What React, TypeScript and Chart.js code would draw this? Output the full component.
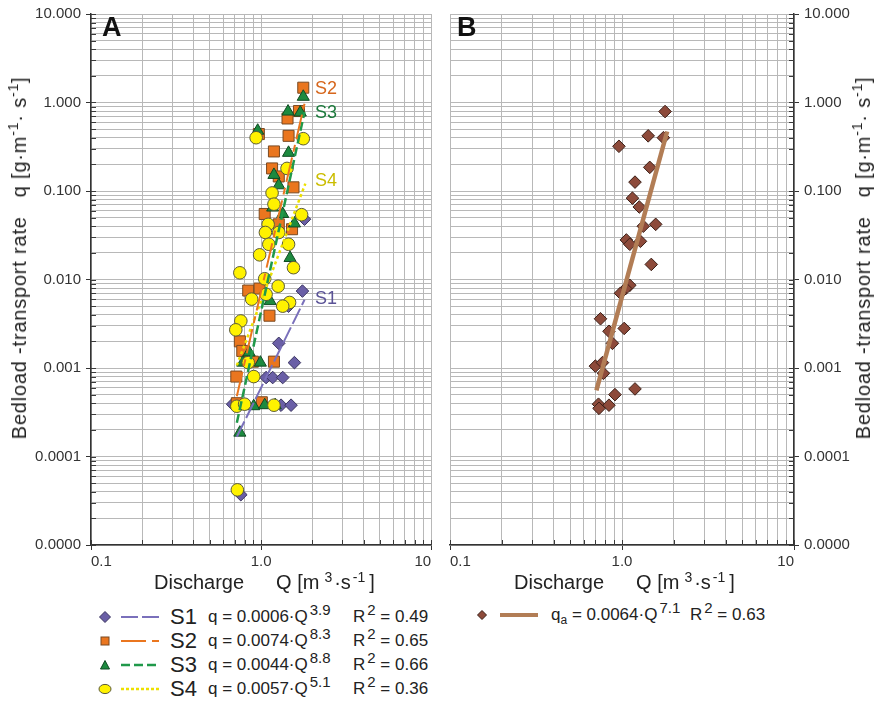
import React, { useEffect, useRef } from "react";
import { Chart, registerables } from "chart.js";
Chart.register(...registerables);

// ---------- axis ticks ----------
const X_MAJOR = [0.1, 1, 10];
const X_TICK_LABELS = ["0.1", "1.0", "10"];
const Y_MAJOR = [0.00001, 0.0001, 0.001, 0.01, 0.1, 1, 10];
const Y_TICK_LABELS = ["0.0000", "0.0001", "0.001", "0.010", "0.100", "1.000", "10.000"];
const MINOR_MULTIPLIERS = [1, 2, 3, 4, 5, 6, 7, 8, 9];

// ---------- panel A data: [Q (m3/s), q (g/m/s)] ----------
const S1_POINTS = [
  [1.8, 0.048], [1.75, 0.0074], [1.45, 0.005], [1.27, 0.0019], [1.57, 0.00115],
  [1.07, 0.00078], [1.17, 0.00078], [1.34, 0.00078], [1.31, 0.00038], [1.5, 0.00038],
  [0.68, 0.00039], [0.76, 0.000037],
];
const S2_POINTS = [
  [1.77, 1.47], [1.67, 0.8], [1.43, 0.66], [0.97, 0.44], [1.45, 0.42], [1.19, 0.28],
  [1.16, 0.18], [1.27, 0.146], [1.55, 0.11], [1.05, 0.055], [1.27, 0.042], [1.52, 0.037],
  [0.84, 0.0075], [0.98, 0.0079], [1.12, 0.0039], [0.75, 0.002], [0.775, 0.00156],
  [0.895, 0.00118], [1.19, 0.00118], [0.715, 0.0008], [1.01, 0.00041], [0.72, 0.0004],
];
const S3_POINTS = [
  [1.77, 1.16], [1.44, 0.79], [1.7, 0.77], [0.955, 0.48], [1.45, 0.27], [1.19, 0.152],
  [1.27, 0.116], [1.17, 0.065], [1.34, 0.055], [1.57, 0.043], [1.48, 0.0175], [1.13, 0.0057],
  [0.85, 0.0015], [0.78, 0.00115], [0.99, 0.00115], [0.905, 0.00037], [1.05, 0.00038],
  [1.21, 0.00038], [0.75, 0.000186],
];
const S4_POINTS = [
  [0.935, 0.4], [1.77, 0.39], [1.42, 0.18], [1.16, 0.095], [1.19, 0.071], [1.73, 0.054],
  [1.1, 0.042], [1.06, 0.034], [1.27, 0.034], [1.45, 0.025], [1.11, 0.025], [0.98, 0.019],
  [1.55, 0.0136], [0.75, 0.0119], [1.05, 0.0102], [1.26, 0.0084], [1.07, 0.0068], [0.88, 0.006],
  [1.47, 0.0055], [1.34, 0.005], [0.76, 0.0034], [0.71, 0.0027], [0.84, 0.00115], [0.905, 0.0008],
  [0.72, 0.00037], [0.8, 0.00039], [1.19, 0.00038], [0.725, 0.000042],
];
// fitted power-law lines (end points)
const S1_FIT = [[0.72, 0.000167], [1.8, 0.0059]];
const S2_FIT = [[0.72, 0.00048], [1.8, 0.97]];
const S3_FIT = [[0.72, 0.00024], [1.8, 0.78]];
const S4_FIT = [[0.72, 0.00107], [1.82, 0.121]];

// ---------- panel B data ----------
const QA_POINTS = [
  [1.78, 0.79], [1.42, 0.42], [1.74, 0.4], [0.96, 0.32], [1.45, 0.185], [1.19, 0.126],
  [1.15, 0.083], [1.26, 0.066], [1.33, 0.04], [1.57, 0.042], [1.06, 0.028], [1.11, 0.025],
  [1.28, 0.027], [1.48, 0.0148], [1.11, 0.0086], [1.05, 0.0079], [0.98, 0.007], [0.75, 0.0036],
  [0.84, 0.0026], [1.03, 0.0028], [0.88, 0.0019], [0.7, 0.00105], [0.77, 0.00115], [0.78, 0.00087],
  [1.19, 0.00058], [0.91, 0.0005], [0.73, 0.00039], [0.84, 0.00038], [0.735, 0.00035],
];
const QA_FIT = [[0.71, 0.00056], [1.83, 0.47]];

// ---------- legend texts ----------
const LEGEND_A = [
  { name: "S1", coef: "0.0006", exp: "3.9", r2: "0.49" },
  { name: "S2", coef: "0.0074", exp: "8.3", r2: "0.65" },
  { name: "S3", coef: "0.0044", exp: "8.8", r2: "0.66" },
  { name: "S4", coef: "0.0057", exp: "5.1", r2: "0.36" },
];
const LEGEND_B = { coef: "0.0064", exp: "7.1", r2: "0.63" };

const FONT = '"Liberation Sans", Arial, Helvetica, sans-serif';

const C = {
  s1: "#6a5fa6", s1Line: "#7a70bb", s1Text: "#5a5296",
  s2: "#ea761f", s2Line: "#ea761f", s2Text: "#d6661c",
  s3: "#1c8a3f", s3Line: "#20994a", s3Text: "#1c7a3c",
  s4: "#fff200", s4Line: "#ece000", s4Text: "#cbbd00",
  qa: "#8d4a3a", qaLine: "#b27d55",
};

function buildTicks(majors: number[]) {
  const out: number[] = [];
  for (let i = 0; i < majors.length - 1; i++) {
    for (const m of MINOR_MULTIPLIERS) out.push(Number((majors[i] * m).toPrecision(6)));
  }
  out.push(majors[majors.length - 1]);
  return out;
}
const X_TICKS = buildTicks(X_MAJOR);
const Y_TICKS = buildTicks(Y_MAJOR);
const isMajor = (v: number, majors: number[]) => majors.some((m) => Math.abs(v - m) / m < 1e-6);
const labelFor = (v: number, majors: number[], labels: string[]) => {
  const i = majors.findIndex((m) => Math.abs(v - m) / m < 1e-6);
  return i >= 0 ? labels[i] : "";
};
const toXY = (pts: number[][]) => pts.map(([x, y]) => ({ x, y }));

const innerTicksPlugin = {
  id: "innerTicks",
  beforeDatasetsDraw(chart: any) {
    const { ctx, chartArea: a, scales } = chart;
    const xs = scales.x;
    const ys = scales.y;
    const right = ys.position === "right";
    ctx.save();
    ctx.strokeStyle = "#3a3a3a";
    ctx.lineWidth = 1;
    ctx.beginPath();
    xs.ticks.forEach((t: any) => {
      const p = Math.round(xs.getPixelForValue(t.value)) + 0.5;
      ctx.moveTo(p, a.bottom);
      ctx.lineTo(p, a.bottom - 5);
    });
    ys.ticks.forEach((t: any) => {
      const p = Math.round(ys.getPixelForValue(t.value)) + 0.5;
      const x0 = right ? a.right : a.left;
      ctx.moveTo(x0, p);
      ctx.lineTo(right ? x0 - 5 : x0 + 5, p);
    });
    ctx.stroke();
    ctx.restore();
  },
};

function makeConfig(side: "left" | "right", datasets: any[]) {
  const right = side === "right";
  return {
    type: "scatter",
    data: { datasets },
    options: {
      responsive: false,
      animation: false,
      devicePixelRatio: 1,
      layout: {
        padding: right
          ? { left: 10, right: 0, top: 12, bottom: 0 }
          : { left: 0, right: 6, top: 12, bottom: 0 },
      },
      plugins: { legend: { display: false }, tooltip: { enabled: false } },
      scales: {
        x: {
          type: "logarithmic",
          min: 0.1,
          max: 10,
          afterBuildTicks: (s: any) => {
            s.ticks = X_TICKS.map((v) => ({ value: v, major: isMajor(v, X_MAJOR) }));
          },
          afterFit: (s: any) => {
            s.height = 30;
          },
          ticks: {
            autoSkip: false,
            maxRotation: 0,
            minRotation: 0,
            align: "inner",
            padding: 3,
            color: "#333",
            font: { family: FONT, size: 15 },
            callback: (v: number) => labelFor(v, X_MAJOR, X_TICK_LABELS),
          },
          grid: {
            color: "#b8b8b8",
            lineWidth: 1,
            tickLength: 5,
            tickColor: (c: any) => (c.tick && isMajor(c.tick.value, X_MAJOR) ? "#333" : "rgba(0,0,0,0)"),
          },
          border: { display: true, color: "#333", width: 1.5 },
        },
        y: {
          type: "logarithmic",
          position: right ? "right" : "left",
          min: 0.00001,
          max: 10,
          afterBuildTicks: (s: any) => {
            s.ticks = Y_TICKS.map((v) => ({ value: v, major: isMajor(v, Y_MAJOR) }));
          },
          afterFit: (s: any) => {
            s.width = right ? 86 : 91;
          },
          ticks: {
            autoSkip: false,
            padding: 5,
            color: "#333",
            font: { family: FONT, size: 15 },
            callback: (v: number) => labelFor(v, Y_MAJOR, Y_TICK_LABELS),
          },
          grid: {
            color: "#b8b8b8",
            lineWidth: 1,
            tickLength: 5,
            tickColor: (c: any) => (c.tick && isMajor(c.tick.value, Y_MAJOR) ? "#333" : "rgba(0,0,0,0)"),
          },
          border: { display: true, color: "#333", width: 1.5 },
        },
      },
    },
    plugins: [innerTicksPlugin],
  };
}

const fitLine = (pts: number[][], color: string, dash: number[], width: number) => ({
  data: toXY(pts),
  showLine: true,
  borderColor: color,
  borderWidth: width,
  borderDash: dash,
  pointRadius: 0,
  order: 0,
});

const datasetsA = [
  fitLine(S1_FIT, C.s1Line, [17, 4], 2),
  fitLine(S2_FIT, C.s2Line, [25, 6, 7, 6], 2),
  fitLine(S3_FIT, C.s3Line, [9, 4], 2.5),
  fitLine(S4_FIT, C.s4Line, [3, 3], 2.5),
  { data: toXY(S4_POINTS), pointStyle: "circle", pointRadius: 6.3, backgroundColor: C.s4, borderColor: "#5a5a3a", borderWidth: 1, order: 1 },
  { data: toXY(S3_POINTS), pointStyle: "triangle", pointRadius: 7, backgroundColor: C.s3, borderColor: "#0f4a22", borderWidth: 1, order: 2 },
  { data: toXY(S2_POINTS), pointStyle: "rect", pointRadius: 7.8, backgroundColor: C.s2, borderColor: "#7a4a22", borderWidth: 1, order: 3 },
  { data: toXY(S1_POINTS), pointStyle: "rectRot", pointRadius: 6.3, backgroundColor: C.s1, borderColor: "#3a3460", borderWidth: 1, order: 4 },
];
const datasetsB = [
  fitLine(QA_FIT, C.qaLine, [], 4.5),
  { data: toXY(QA_POINTS), pointStyle: "rectRot", pointRadius: 6.3, backgroundColor: C.qa, borderColor: "#3a1e16", borderWidth: 1, order: 1 },
];

const sup: React.CSSProperties = { fontSize: 15, position: "relative", top: -7, marginLeft: 2 };
const supSmall: React.CSSProperties = { fontSize: 14, position: "relative", top: -7 };

function Marker({ kind, cx, cy }: { kind: string; cx: number; cy: number }) {
  let shape: any = null;
  if (kind === "S1") shape = <polygon points="8,2.5 13.5,8 8,13.5 2.5,8" fill={C.s1} stroke="#3a3460" strokeWidth="1" />;
  if (kind === "S2") shape = <rect x="4" y="4" width="8" height="8" fill={C.s2} stroke="#7a4a22" strokeWidth="1" />;
  if (kind === "S3") shape = <polygon points="8,3.5 12.5,12 3.5,12" fill={C.s3} stroke="#0f4a22" strokeWidth="1" />;
  if (kind === "S4") shape = <ellipse cx="8" cy="8" rx="6" ry="4.6" fill={C.s4} stroke="#5a5a3a" strokeWidth="1" />;
  if (kind === "QA") shape = <polygon points="8,3.5 12.5,8 8,12.5 3.5,8" fill={C.qa} stroke="#3a1e16" strokeWidth="1" />;
  return (
    <svg width="16" height="16" style={{ position: "absolute", left: cx - 8, top: cy - 8 }}>
      {shape}
    </svg>
  );
}

function LineSample({ x1, x2, cy, color, dash, width }: any) {
  return (
    <svg width={x2 - x1} height="8" style={{ position: "absolute", left: x1, top: cy - 4 }}>
      <line x1="0" y1="4" x2={x2 - x1} y2="4" stroke={color} strokeWidth={width} strokeDasharray={dash} />
    </svg>
  );
}

const LEGEND_STYLE: Record<string, any> = {
  S1: { color: C.s1Line, dash: "17 4", width: 2 },
  S2: { color: C.s2Line, dash: "25 6 7 6", width: 2 },
  S3: { color: C.s3Line, dash: "9 4", width: 2.5 },
  S4: { color: C.s4Line, dash: "3 2", width: 2.5 },
};

function XTitle({ left }: { left: number }) {
  return (
    <div style={{ position: "absolute", left, top: 570, lineHeight: "24px", fontSize: 20, whiteSpace: "nowrap", color: "#222" }}>
      <span>Discharge</span>
      <span style={{ marginLeft: 32 }}>
        Q [m<span style={{ ...supSmall, marginLeft: 5 }}>3</span>
        <span style={{ marginLeft: 2 }}>·s</span>
        <span style={{ ...supSmall, marginLeft: 2 }}>-1</span>
        <span style={{ marginLeft: 4 }}>]</span>
      </span>
    </div>
  );
}

function YTitle({ cx }: { cx: number }) {
  return (
    <div
      style={{
        position: "absolute",
        left: cx,
        top: 258,
        transform: "translate(-50%, -50%) rotate(-90deg)",
        whiteSpace: "nowrap",
        fontSize: 20,
        lineHeight: "24px",
        letterSpacing: 0.8,
        color: "#222",
      }}
    >
      Bedload -transport rate{"\u00a0\u00a0\u00a0"}q [g·m<span style={{ ...supSmall, top: -8 }}>-1</span>· s
      <span style={{ ...supSmall, top: -8 }}>-1</span>]
    </div>
  );
}

export default function App() {
  const refA = useRef<HTMLCanvasElement | null>(null);
  const refB = useRef<HTMLCanvasElement | null>(null);
  useEffect(() => {
    const a = new Chart(refA.current as any, makeConfig("left", datasetsA) as any);
    const b = new Chart(refB.current as any, makeConfig("right", datasetsB) as any);
    return () => {
      a.destroy();
      b.destroy();
    };
  }, []);

  const seriesLabel = (text: string, top: number, color: string) => (
    <div style={{ position: "absolute", left: 315, top, fontSize: 18, lineHeight: "18px", color }}>{text}</div>
  );

  return (
    <div
      style={{
        position: "absolute",
        left: 0,
        top: 0,
        width: 880,
        height: 702,
        background: "#fff",
        fontFamily: FONT,
        overflow: "hidden",
        color: "#222",
      }}
    >
      <canvas ref={refA} width={440} height={575} style={{ position: "absolute", left: 0, top: 0 }} />
      <canvas ref={refB} width={440} height={575} style={{ position: "absolute", left: 440, top: 0 }} />

      <div style={{ position: "absolute", left: 102, top: 14, fontSize: 27, fontWeight: "bold", lineHeight: "27px", color: "#111" }}>A</div>
      <div style={{ position: "absolute", left: 457, top: 14, fontSize: 27, fontWeight: "bold", lineHeight: "27px", color: "#111" }}>B</div>

      {seriesLabel("S2", 79, C.s2Text)}
      {seriesLabel("S3", 103, C.s3Text)}
      {seriesLabel("S4", 171, C.s4Text)}
      {seriesLabel("S1", 289, C.s1Text)}

      <XTitle left={154} />
      <XTitle left={514} />
      <YTitle cx={20} />
      <YTitle cx={864} />

      {LEGEND_A.map((row, i) => {
        const cy = 617 + i * 24;
        const st = LEGEND_STYLE[row.name];
        return (
          <React.Fragment key={row.name}>
            <Marker kind={row.name} cx={105} cy={cy} />
            <LineSample x1={121} x2={159} cy={cy} color={st.color} dash={st.dash} width={st.width} />
            <div style={{ position: "absolute", left: 170, top: cy - 13, fontSize: 22, lineHeight: "26px" }}>{row.name}</div>
            <div style={{ position: "absolute", left: 208, top: cy - 12, fontSize: 17, lineHeight: "24px", whiteSpace: "nowrap" }}>
              q = {row.coef}·Q<span style={sup}>{row.exp}</span>
            </div>
            <div style={{ position: "absolute", left: 353, top: cy - 12, fontSize: 17, lineHeight: "24px", whiteSpace: "nowrap" }}>
              R<span style={sup}>2</span> = {row.r2}
            </div>
          </React.Fragment>
        );
      })}

      <Marker kind="QA" cx={482} cy={615} />
      <LineSample x1={500} x2={538} cy={615} color={C.qaLine} dash="" width={4} />
      <div style={{ position: "absolute", left: 551, top: 603, fontSize: 17, lineHeight: "24px", whiteSpace: "nowrap" }}>
        q<span style={{ fontSize: 12, position: "relative", top: 4 }}>a</span> = {LEGEND_B.coef}·Q<span style={sup}>{LEGEND_B.exp}</span>
      </div>
      <div style={{ position: "absolute", left: 690, top: 603, fontSize: 17, lineHeight: "24px", whiteSpace: "nowrap" }}>
        R<span style={sup}>2</span> = {LEGEND_B.r2}
      </div>
    </div>
  );
}
